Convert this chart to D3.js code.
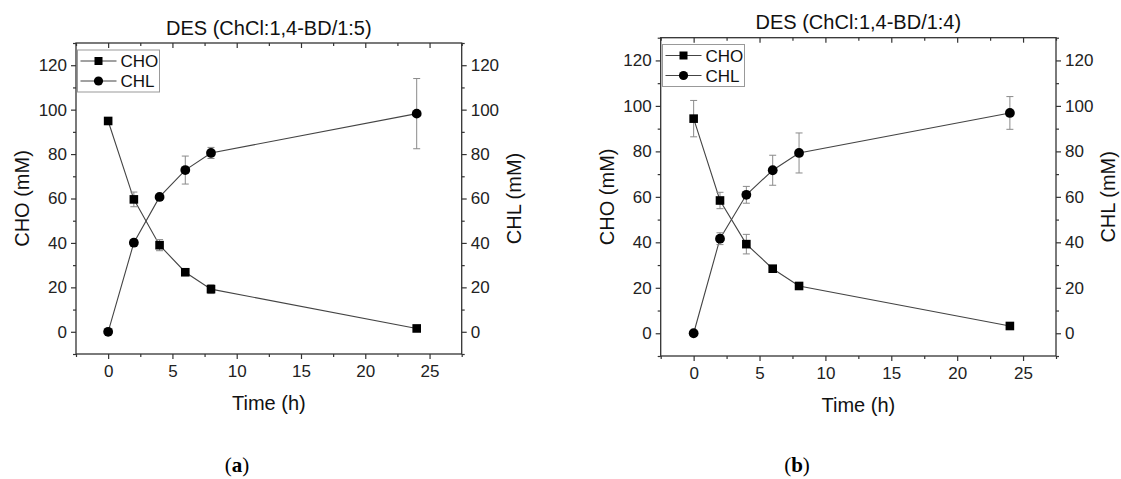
<!DOCTYPE html>
<html>
<head>
<meta charset="utf-8">
<script src="https://cdn.jsdelivr.net/npm/d3@7"></script>
<style>
    html, body { margin: 0; padding: 0; background: #fff; }
    svg { display: block; font-family: "Liberation Sans", Arial, sans-serif; }
</style>
</head>
<body>
<div id="chart"></div>
<script>
const times = [0, 2, 4, 6, 8, 24];
const xTicks = [0, 5, 10, 15, 20, 25];
const yTicks = [0, 20, 40, 60, 80, 100, 120];

const titleA = "DES (ChCl:1,4-BD/1:5)";
const choA = [94.9, 59.6, 39.0, 26.8, 19.2, 1.5];
const choErrA = [1.5, 3.3, 2.5, 1.0, 2.0, 1.0];
const chlA = [0, 40.1, 60.7, 72.8, 80.5, 98.2];
const chlErrA = [0.8, 1.5, 1.0, 6.3, 2.5, 15.8];

const titleB = "DES (ChCl:1,4-BD/1:4)";
const choB = [94.4, 58.4, 39.2, 28.4, 20.8, 3.2];
const choErrB = [8.0, 3.6, 4.3, 1.0, 1.0, 1.0];
const chlB = [0, 41.6, 60.9, 71.7, 79.3, 96.9];
const chlErrB = [0.5, 2.6, 3.7, 6.6, 8.8, 7.2];

const seriesNames = ["CHO", "CHL"];

const svg = d3.select("#chart").append("svg")
    .attr("width", 1121).attr("height", 479)
    .attr("viewBox", "0 0 1121 479");
svg.append("rect").attr("width", 1121).attr("height", 479).attr("fill", "#fff");

const axisColor = "#333";
const lineColor = "#444";
const errColor = "#8a8a8a";

function drawPanel(p) {
    const x = d3.scaleLinear().domain([-2.5, 27.5]).range([p.left, p.right]);
    const y = d3.scaleLinear().domain([-10, 130]).range([p.bottom, p.top]);
    const xMinor = d3.range(-2.5, 27.6, 2.5).filter(v => !xTicks.includes(v));
    const yMinor = d3.range(-10, 131, 10).filter(v => !yTicks.includes(v));

    const g = svg.append("g");

    // frame
    g.append("rect")
        .attr("x", p.left).attr("y", p.top)
        .attr("width", p.right - p.left).attr("height", p.bottom - p.top)
        .attr("fill", "none").attr("stroke", axisColor).attr("stroke-width", 1.3);

    // bottom axis
    g.append("g").attr("transform", `translate(0,${p.bottom})`)
        .call(d3.axisBottom(x).tickValues(xTicks).tickSize(5).tickPadding(6).tickSizeOuter(0));
    g.append("g").attr("transform", `translate(0,${p.bottom})`)
        .call(d3.axisBottom(x).tickValues(xMinor).tickSize(3).tickFormat("").tickSizeOuter(0));
    // top axis (ticks only)
    g.append("g").attr("transform", `translate(0,${p.top})`)
        .call(d3.axisBottom(x).tickValues(xTicks).tickSize(5).tickFormat("").tickSizeOuter(0));
    g.append("g").attr("transform", `translate(0,${p.top})`)
        .call(d3.axisBottom(x).tickValues(xMinor).tickSize(3).tickFormat("").tickSizeOuter(0));
    // left axis
    g.append("g").attr("transform", `translate(${p.left},0)`)
        .call(d3.axisLeft(y).tickValues(yTicks).tickSize(5).tickPadding(4).tickSizeOuter(0));
    g.append("g").attr("transform", `translate(${p.left},0)`)
        .call(d3.axisLeft(y).tickValues(yMinor).tickSize(3).tickFormat("").tickSizeOuter(0));
    // right axis
    g.append("g").attr("transform", `translate(${p.right},0)`)
        .call(d3.axisRight(y).tickValues(yTicks).tickSize(5).tickPadding(4).tickSizeOuter(0));
    g.append("g").attr("transform", `translate(${p.right},0)`)
        .call(d3.axisRight(y).tickValues(yMinor).tickSize(3).tickFormat("").tickSizeOuter(0));

    g.selectAll(".domain").remove();
    g.selectAll(".tick line").attr("stroke", axisColor).attr("stroke-width", 1.2);
    g.selectAll(".tick text").attr("fill", "#222").style("font-size", "17px")
        .style("font-family", "'Liberation Sans', Arial, sans-serif");

    // titles and axis labels
    g.append("text").attr("x", (p.left + p.right) / 2).attr("y", p.titleY)
        .attr("text-anchor", "middle").attr("fill", "#111").style("font-size", "20px").text(p.title);
    g.append("text").attr("x", (p.left + p.right) / 2).attr("y", p.bottom + 56)
        .attr("text-anchor", "middle").attr("fill", "#111").style("font-size", "20px").text("Time (h)");
    g.append("text")
        .attr("transform", `translate(${p.left - 54},${(p.top + p.bottom) / 2}) rotate(-90)`)
        .attr("text-anchor", "middle").attr("dy", "0.35em").attr("fill", "#111").style("font-size", "20px")
        .text("CHO (mM)");
    g.append("text")
        .attr("transform", `translate(${p.right + 52},${(p.top + p.bottom) / 2}) rotate(-90)`)
        .attr("text-anchor", "middle").attr("dy", "0.35em").attr("fill", "#111").style("font-size", "20px")
        .text("CHL (mM)");

    const line = d3.line().x(d => x(d.t)).y(d => y(d.v));
    const series = [
        { vals: p.cho, errs: p.choErr, shape: "square" },
        { vals: p.chl, errs: p.chlErr, shape: "circle" }
    ];

    series.forEach(s => {
        const pts = times.map((t, i) => ({ t, v: s.vals[i], e: s.errs[i] }));
        g.append("path").datum(pts).attr("d", line)
            .attr("fill", "none").attr("stroke", lineColor).attr("stroke-width", 1.1);

        const eb = g.append("g").selectAll("g").data(pts).enter().append("g");
        eb.append("line")
            .attr("x1", d => x(d.t)).attr("x2", d => x(d.t))
            .attr("y1", d => y(d.v - d.e)).attr("y2", d => y(d.v + d.e))
            .attr("stroke", errColor).attr("stroke-width", 1);
        [-1, 1].forEach(sign => {
            eb.append("line")
                .attr("x1", d => x(d.t) - 3.5).attr("x2", d => x(d.t) + 3.5)
                .attr("y1", d => y(d.v + sign * d.e)).attr("y2", d => y(d.v + sign * d.e))
                .attr("stroke", errColor).attr("stroke-width", 1);
        });

        if (s.shape === "square") {
            g.append("g").selectAll("rect").data(pts).enter().append("rect")
                .attr("x", d => x(d.t) - 4.3).attr("y", d => y(d.v) - 4.3)
                .attr("width", 8.6).attr("height", 8.6).attr("fill", "#000");
        } else {
            g.append("g").selectAll("circle").data(pts).enter().append("circle")
                .attr("cx", d => x(d.t)).attr("cy", d => y(d.v)).attr("r", 4.9).attr("fill", "#000");
        }
    });

    // legend
    const lg = g.append("g");
    lg.append("rect")
        .attr("x", p.legX).attr("y", p.legY).attr("width", 82).attr("height", 42)
        .attr("fill", "#fff").attr("stroke", "#999").attr("stroke-width", 1);
    seriesNames.forEach((name, i) => {
        const ry = p.legY + 11 + i * 20;
        const mx = p.legX + 21;
        lg.append("line").attr("x1", p.legX + 3).attr("x2", p.legX + 39)
            .attr("y1", ry).attr("y2", ry).attr("stroke", lineColor).attr("stroke-width", 1.1);
        if (i === 0) {
            lg.append("rect").attr("x", mx - 4).attr("y", ry - 4).attr("width", 8).attr("height", 8).attr("fill", "#000");
        } else {
            lg.append("circle").attr("cx", mx).attr("cy", ry).attr("r", 4.6).attr("fill", "#000");
        }
        lg.append("text").attr("x", p.legX + 43).attr("y", ry).attr("dy", "0.36em")
            .attr("fill", "#111").style("font-size", "17px").text(name);
    });

    // panel caption
    const cap = svg.append("text").attr("x", p.capX).attr("y", 472)
        .attr("text-anchor", "middle").attr("fill", "#000")
        .style("font-family", "'Liberation Serif', 'DejaVu Serif', serif").style("font-size", "21px");
    cap.append("tspan").text("(");
    cap.append("tspan").style("font-weight", "bold").text(p.caption);
    cap.append("tspan").text(")");
}

drawPanel({
    left: 76, right: 461.7, top: 43, bottom: 354, titleY: 35,
    title: titleA, cho: choA, choErr: choErrA, chl: chlA, chlErr: chlErrA,
    legX: 77.5, legY: 50, capX: 237, caption: "a"
});

drawPanel({
    left: 660.7, right: 1056, top: 37.7, bottom: 356, titleY: 28.5,
    title: titleB, cho: choB, choErr: choErrB, chl: chlB, chlErr: chlErrB,
    legX: 662.5, legY: 44.5, capX: 797, caption: "b"
});
</script>
</body>
</html>
